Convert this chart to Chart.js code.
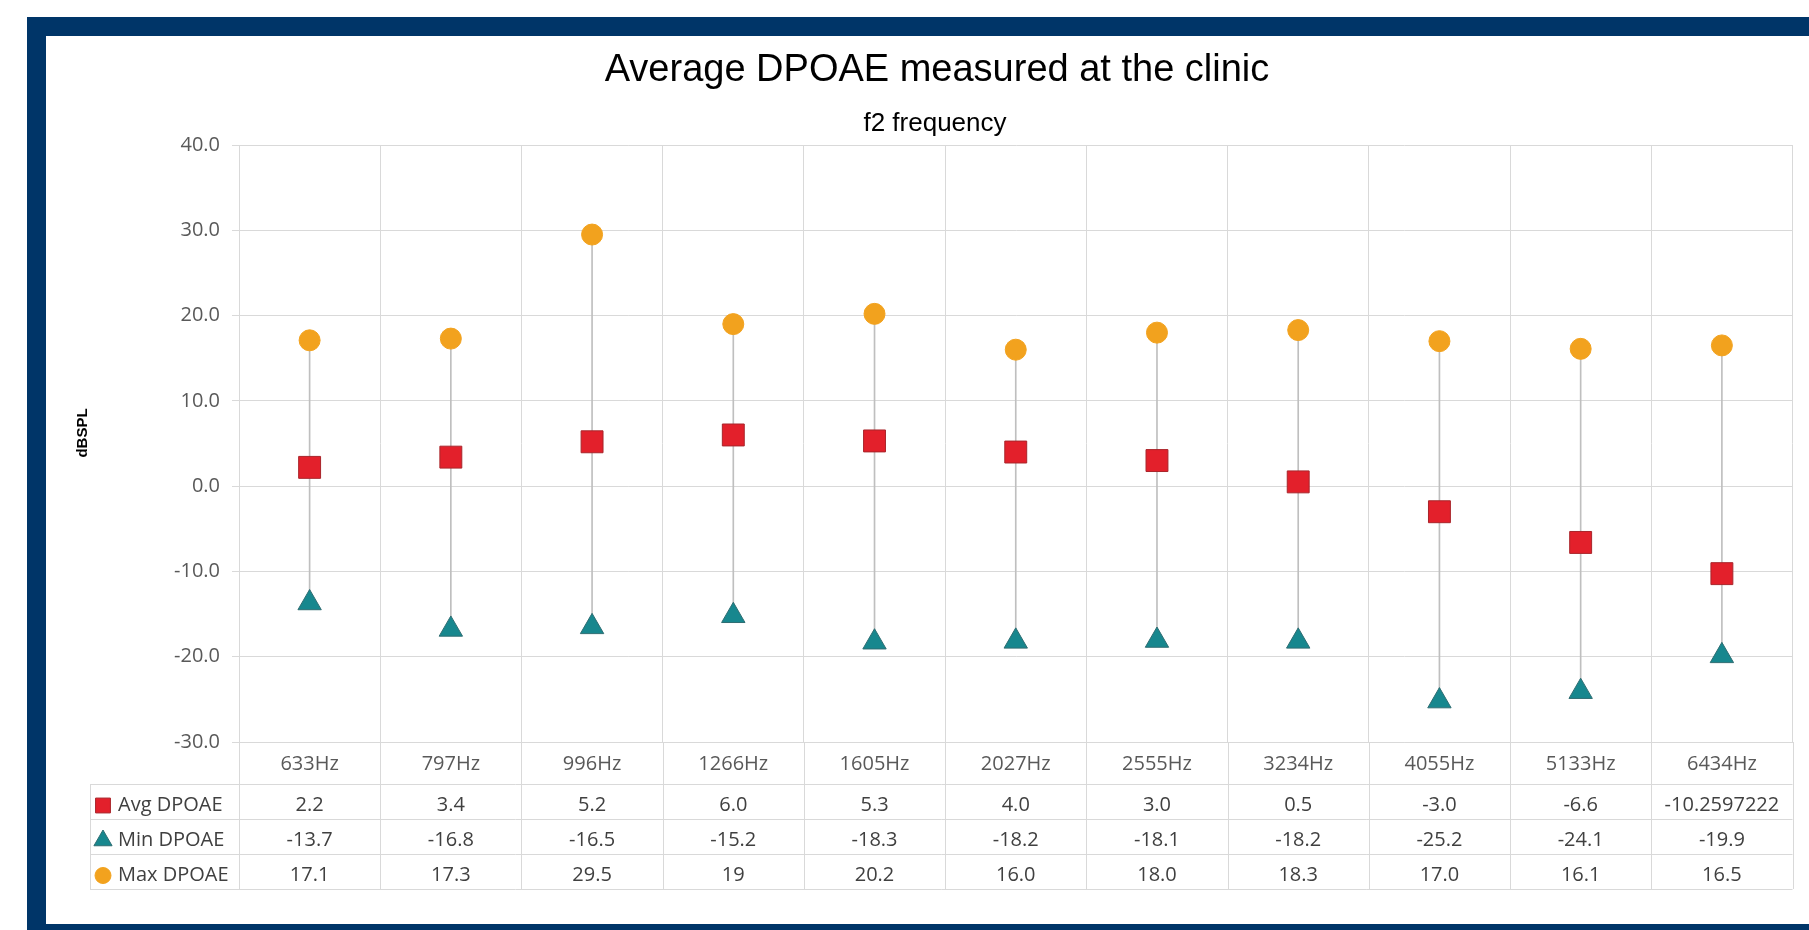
<!DOCTYPE html>
<html>
<head>
<meta charset="utf-8">
<title>Average DPOAE measured at the clinic</title>
<script src="https://cdn.jsdelivr.net/npm/chart.js@4.4.1/dist/chart.umd.min.js"></script>
<style>
  html, body { margin: 0; padding: 0; background: #ffffff; width: 1809px; height: 930px; overflow: hidden; }
  #frame {
    position: absolute; left: 27px; top: 17px; width: 1900px; height: 913px;
    box-sizing: border-box; background: #ffffff;
    border-top: 19px solid #003568; border-left: 19px solid #003568; border-bottom: 6px solid #003568;
  }
  #chart { position: absolute; left: 0; top: 0; }
</style>
</head>
<body>
<div id="frame"></div>
<canvas id="chart" width="1809" height="930"></canvas>
<script>
// f2 frequencies
const categories = ['633Hz', '797Hz', '996Hz', '1266Hz', '1605Hz', '2027Hz', '2555Hz', '3234Hz', '4055Hz', '5133Hz', '6434Hz'];

// DPOAE levels in dB SPL, as printed in the data table
const avgText = ['2.2', '3.4', '5.2', '6.0', '5.3', '4.0', '3.0', '0.5', '-3.0', '-6.6', '-10.2597222'];
const minText = ['-13.7', '-16.8', '-16.5', '-15.2', '-18.3', '-18.2', '-18.1', '-18.2', '-25.2', '-24.1', '-19.9'];
const maxText = ['17.1', '17.3', '29.5', '19', '20.2', '16.0', '18.0', '18.3', '17.0', '16.1', '16.5'];

const avgValues = avgText.map(Number);
const minValues = minText.map(Number);
const maxValues = maxText.map(Number);

// y axis range
const yMin = -30;
const yMax = 40;
const yStep = 10;

const chartTitle = 'Average DPOAE measured at the clinic';
const chartSubtitle = 'f2 frequency';
const yAxisTitle = 'dBSPL';

const gridColor = '#d9d9d9';
const tickColor = '#595959';
const tableColor = '#404040';
const uiFont = '"Open Sans", "DejaVu Sans", sans-serif';
const titleFont = '"Liberation Sans", Arial, sans-serif';

const series = [
  { name: 'Avg DPOAE', text: avgText, style: 'rect',     fill: '#e3202b', border: '#a9252b', legendRadius: 10.5 },
  { name: 'Min DPOAE', text: minText, style: 'triangle', fill: '#17878e', border: '#2f6d72', legendRadius: 10.5 },
  { name: 'Max DPOAE', text: maxText, style: 'circle',   fill: '#f2a21e', border: '#f2a21e', legendRadius: 8 }
];

// Headings: title, subtitle and the rotated y axis caption
const headings = {
  id: 'headings',
  afterDraw(chart) {
    const { ctx } = chart;
    ctx.save();
    ctx.fillStyle = '#000000';
    ctx.textAlign = 'center';
    ctx.textBaseline = 'alphabetic';
    ctx.font = '38px ' + titleFont;
    ctx.fillText(chartTitle, 937, 81);
    ctx.font = '26px ' + titleFont;
    ctx.fillText(chartSubtitle, 935, 131);
    ctx.translate(83, 433);
    ctx.rotate(-Math.PI / 2);
    ctx.textBaseline = 'middle';
    ctx.font = 'bold 15px ' + titleFont;
    ctx.fillText(yAxisTitle, 0, 0);
    ctx.restore();
  }
};

// Data table under the plot: column rules, legend keys and values
const dataTable = {
  id: 'dataTable',
  afterDraw(chart) {
    const { ctx, chartArea: area, scales: { x } } = chart;
    const rowTop = area.bottom + 42;
    const rowH = 35;
    const left = 90;
    const bottom = rowTop + rowH * series.length;
    const crisp = v => Math.round(v) + 0.5;

    ctx.save();
    ctx.strokeStyle = gridColor;
    ctx.lineWidth = 1;
    ctx.beginPath();
    for (let i = 0; i <= categories.length; i++) {
      const px = crisp(x.getPixelForValue(i - 0.5));
      ctx.moveTo(px, area.bottom);
      ctx.lineTo(px, bottom);
    }
    ctx.moveTo(crisp(left), rowTop);
    ctx.lineTo(crisp(left), bottom);
    for (let r = 0; r <= series.length; r++) {
      const py = crisp(rowTop + r * rowH);
      ctx.moveTo(left, py);
      ctx.lineTo(area.right, py);
    }
    ctx.stroke();

    ctx.font = '20px ' + uiFont;
    ctx.textBaseline = 'middle';
    series.forEach((s, r) => {
      const cy = rowTop + r * rowH + rowH / 2 + 4;
      ctx.fillStyle = s.fill;
      ctx.strokeStyle = s.border;
      ctx.lineWidth = 1;
      if (Chart.helpers && Chart.helpers.drawPoint) {
        Chart.helpers.drawPoint(ctx, { pointStyle: s.style, radius: s.legendRadius, borderWidth: 1, rotation: 0 }, left + 13, cy);
      }
      ctx.fillStyle = tableColor;
      ctx.textAlign = 'left';
      ctx.fillText(s.name, left + 28, cy);
      ctx.textAlign = 'center';
      s.text.forEach((t, i) => ctx.fillText(t, x.getPixelForValue(i), cy));
    });
    ctx.restore();
  }
};

new Chart(document.getElementById('chart'), {
  type: 'bar',
  data: {
    labels: categories,
    datasets: [
      {
        type: 'line', label: 'Min DPOAE', data: minValues, showLine: false, order: 1,
        pointStyle: 'triangle', pointRadius: 13.5, pointBackgroundColor: series[1].fill,
        pointBorderColor: series[1].border, pointBorderWidth: 1
      },
      {
        type: 'line', label: 'Avg DPOAE', data: avgValues, showLine: false, order: 2,
        pointStyle: 'rect', pointRadius: 15.5, pointBackgroundColor: series[0].fill,
        pointBorderColor: series[0].border, pointBorderWidth: 1
      },
      {
        type: 'line', label: 'Max DPOAE', data: maxValues, showLine: false, order: 3,
        pointStyle: 'circle', pointRadius: 10.5, pointBackgroundColor: series[2].fill,
        pointBorderColor: series[2].border, pointBorderWidth: 1
      },
      {
        type: 'bar', label: 'High-Low', order: 4,
        data: minValues.map((v, i) => [v, maxValues[i]]),
        backgroundColor: '#bfbfbf', borderWidth: 0, barThickness: 1
      }
    ]
  },
  options: {
    responsive: false,
    animation: false,
    devicePixelRatio: 1,
    layout: { padding: { top: 145, left: 40, right: 12, bottom: 144 } },
    plugins: {
      legend: { display: false },
      tooltip: { enabled: false },
      title: { display: false },
      subtitle: { display: false }
    },
    scales: {
      x: {
        type: 'category',
        offset: true,
        grid: { offset: true, color: gridColor, drawTicks: false },
        border: { display: true, color: gridColor },
        ticks: { color: tickColor, font: { family: uiFont, size: 20 }, padding: 10, maxRotation: 0 }
      },
      y: {
        min: yMin,
        max: yMax,
        afterFit(scale) { scale.width = 199; },
        grid: { color: gridColor, tickLength: 7 },
        border: { display: true, color: gridColor },
        ticks: {
          stepSize: yStep, color: tickColor, padding: 12,
          font: { family: uiFont, size: 20 },
          callback: v => Number(v).toFixed(1)
        }
      }
    }
  },
  plugins: [dataTable, headings]
});
</script>
</body>
</html>
